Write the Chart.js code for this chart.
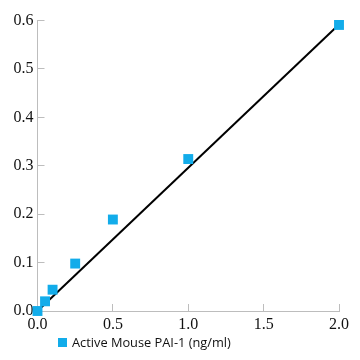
<!DOCTYPE html>
<html>
<head>
<meta charset="utf-8">
<script src="https://cdn.jsdelivr.net/npm/chart.js@4/dist/chart.umd.min.js"></script>
<style>
html, body { margin:0; padding:0; background:#fff; }
#wrap { position:relative; width:360px; height:360px; }
#legend {
    position:absolute; left:58px; top:333px;
    font-family:"Open Sans", sans-serif; font-size:12.8px; color:#111;
    display:flex; align-items:center;
}
#legend .box { width:9px; height:9px; background:#12acea; margin-right:5px; }
</style>
</head>
<body>
<div id="wrap">
<canvas id="chartStd" width="360" height="360"></canvas>
<div id="legend"><span class="box"></span><span>Active Mouse PAI-1 (ng/ml)</span></div>
</div>
<script>
// concentration (ng/ml) vs absorbance
const conc = [0, 0.05, 0.1, 0.25, 0.5, 1.0, 2.0];
const od = [0.0, 0.020, 0.044, 0.098, 0.189, 0.314, 0.591];

// fitted line end points
const fitX = [0, 2.0];
const fitY = [0, 0.592];

const xTicks = [0, 0.5, 1.0, 1.5, 2.0];
const yTicks = [0, 0.1, 0.2, 0.3, 0.4, 0.5, 0.6];

const blue = "#12acea";
const axisGray = "#bdbdbd";
const tickFont = { family: "'Liberation Serif', 'Times New Roman', serif", size: 16 };

const canvas = document.getElementById("chartStd");

new Chart(canvas, {
    type: "scatter",
    data: {
        datasets: [
            {
                label: "Active Mouse PAI-1 (ng/ml)",
                data: conc.map((c, i) => ({x: c, y: od[i]})),
                pointStyle: "rect",
                pointRadius: 7,
                pointHoverRadius: 7,
                backgroundColor: blue,
                borderColor: blue,
                borderWidth: 0,
                clip: false,
                order: 0
            },
            {
                label: "fit",
                type: "line",
                data: fitX.map((x, i) => ({x: x, y: fitY[i]})),
                borderColor: "#000",
                borderWidth: 2,
                pointRadius: 0,
                fill: false,
                clip: false,
                order: 1
            }
        ]
    },
    options: {
        responsive: false,
        animation: false,
        layout: { padding: { top: 10, right: 21, left: 0, bottom: 0 } },
        plugins: {
            legend: { display: false },
            tooltip: { enabled: false }
        },
        scales: {
            x: {
                type: "linear",
                min: 0,
                max: 2.0,
                afterFit(scale) { scale.height = 49; },
                afterBuildTicks(scale) {
                    scale.ticks = xTicks.map(v => ({value: v}));
                },
                border: { color: axisGray, width: 1 },
                grid: {
                    drawOnChartArea: false,
                    drawTicks: true,
                    tickLength: -7,
                    color: axisGray
                },
                ticks: {
                    padding: 11,
                    color: "#111",
                    font: tickFont,
                    callback: v => Number(v).toFixed(1)
                }
            },
            y: {
                type: "linear",
                min: 0,
                max: 0.6,
                afterFit(scale) { scale.width = 37.5; },
                afterBuildTicks(scale) {
                    scale.ticks = yTicks.map(v => ({value: v}));
                },
                border: { color: axisGray, width: 1 },
                grid: {
                    drawOnChartArea: false,
                    drawTicks: true,
                    tickLength: -7,
                    color: axisGray
                },
                ticks: {
                    padding: 11,
                    color: "#111",
                    font: tickFont,
                    callback: v => Number(v).toFixed(1)
                }
            }
        }
    }
});
</script>
</body>
</html>
